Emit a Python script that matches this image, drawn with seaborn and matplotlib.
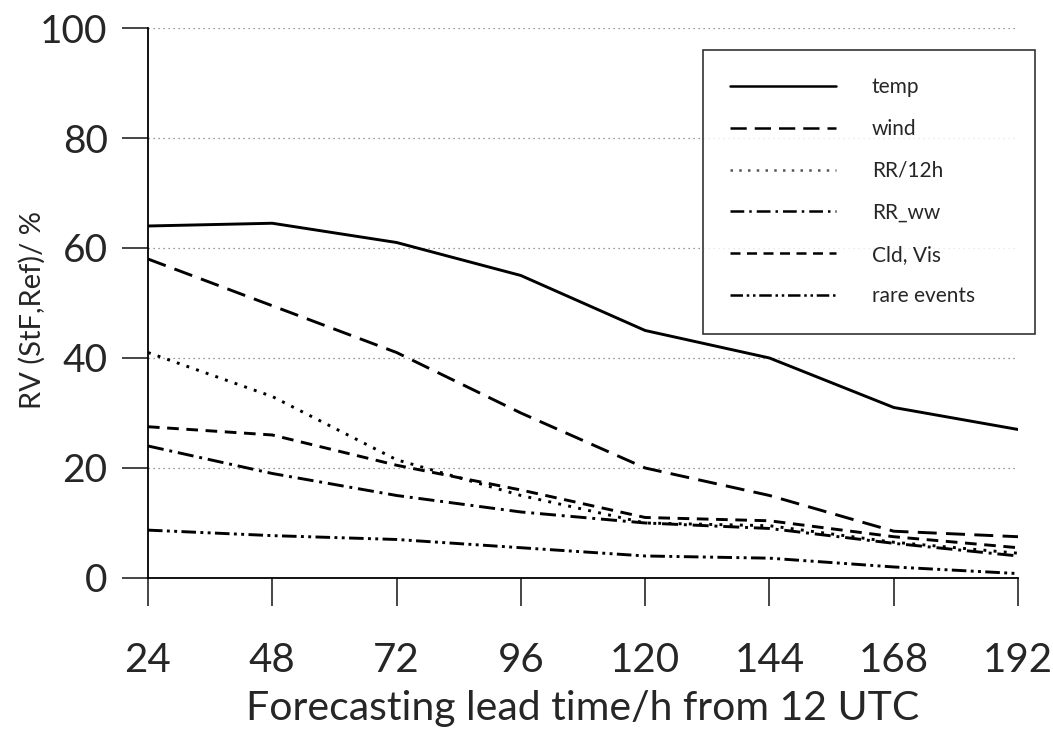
import matplotlib
matplotlib.use("Agg")
import matplotlib.pyplot as plt
import numpy as np
import pandas as pd
import seaborn as sns

# values (lead time in hours, RV in %)
lead_time = [24, 48, 72, 96, 120, 144, 168, 192]
temp = [64, 64.5, 61, 55, 45, 40, 31, 27]
wind = [58, 49.5, 41, 30, 20, 15, 8.5, 7.5]
rr_12h = [41, 33, 21.5, 15, 10, 9.5, 6.5, 4.5]
rr_ww = [24, 19, 15, 12, 10, 9, 6.3, 4]
cld_vis = [27.5, 26, 20.5, 16, 11, 10.4, 7.5, 5.5]
rare_events = [8.7, 7.7, 7, 5.5, 4, 3.6, 2, 0.8]

series_names = ["temp", "wind", "RR/12h", "RR_ww", "Cld, Vis", "rare events"]
series_values = [temp, wind, rr_12h, rr_ww, cld_vis, rare_events]

df = pd.DataFrame({
    "lead": np.tile(lead_time, len(series_names)),
    "rv": np.concatenate(series_values),
    "var": np.repeat(series_names, len(lead_time)),
})

sns.set_style("white")
plt.rcParams["font.family"] = ["Lato", "DejaVu Sans"]

dashes = {
    "temp": "",
    "wind": (6.5, 3.2),
    "RR/12h": (1, 2.5),
    "RR_ww": (5.5, 2, 1, 2),
    "Cld, Vis": (4, 2.6),
    "rare events": (5, 1.5, 1, 1.5, 1, 1.5),
}

fig = plt.figure(figsize=(10.53, 7.51), dpi=100)
ax = fig.add_axes([0.1405, 0.2304, 0.8263, 0.7323])

sns.lineplot(data=df, x="lead", y="rv", hue="var", style="var",
             hue_order=series_names, style_order=series_names,
             palette=["black"] * 6, dashes=dashes, linewidth=2.1, ax=ax)

# the rain line is a fine grey dotted one, cloud line a bit heavier
for line in ax.get_lines():
    if line.get_label() == "RR/12h":
        line.set_linewidth(1.2)
        line.set_color("#555555")
    elif line.get_label() == "Cld, Vis":
        line.set_linewidth(2.5)

# dotted horizontal grid
for y in [20, 40, 60, 80, 100]:
    ax.axhline(y, color="#777777", linestyle=(0, (1, 3)), linewidth=0.9, zorder=0)

ax.set_xlim(24, 192)
ax.set_ylim(0, 100)
ax.set_xticks(lead_time)
ax.set_yticks([0, 20, 40, 60, 80, 100])
ax.tick_params(axis="x", direction="out", length=20, width=1.2, pad=26,
               labelsize=29, bottom=True)
ax.tick_params(axis="y", direction="out", length=19, width=1.2, pad=10,
               labelsize=28, left=True)

for side in ["top", "right"]:
    ax.spines[side].set_visible(False)
for side in ["left", "bottom"]:
    ax.spines[side].set_color("black")
    ax.spines[side].set_linewidth(1.3)

ax.set_xlabel("Forecasting lead time/h from 12 UTC", fontsize=29.5, labelpad=8)
ax.set_ylabel("RV (StF,Ref)/ %", fontsize=21)
ax.yaxis.set_label_coords(-0.118, 0.487)

leg = ax.legend(loc="upper left", bbox_to_anchor=(0.638, 0.442, 0.382, 0.518),
                mode="expand", fontsize=15, handlelength=5.1, handletextpad=1.7,
                labelspacing=1.05, borderpad=1.3, frameon=True,
                fancybox=False, borderaxespad=0)
leg.get_frame().set_edgecolor("black")
leg.get_frame().set_linewidth(1.2)
for h in leg.get_lines():
    h.set_linewidth(1.8)

fig.savefig("out.png", dpi=100)
